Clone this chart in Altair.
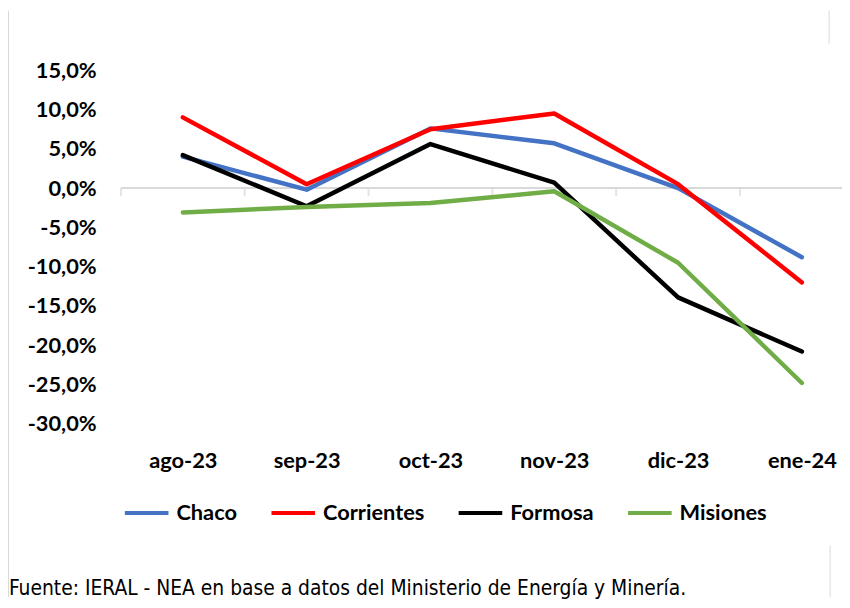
import json
import altair as alt
import pandas as pd

months = ["ago-23", "sep-23", "oct-23", "nov-23", "dic-23", "ene-24"]
series = ["Chaco", "Corrientes", "Formosa", "Misiones"]
chaco = [4.0, -0.2, 7.6, 5.7, 0.0, -8.8]
corrientes = [9.0, 0.5, 7.5, 9.5, 0.5, -12.0]
formosa = [4.2, -2.3, 5.6, 0.7, -13.9, -20.8]
misiones = [-3.1, -2.4, -1.9, -0.4, -9.5, -24.8]
colors = ["#4472C4", "#FF0000", "#000000", "#70AD47"]
y_ticks = [15, 10, 5, 0, -5, -10, -15, -20, -25, -30]
source_text = "Fuente: IERAL - NEA en base a datos del Ministerio de Energía y Minería."

values_by_series = [chaco, corrientes, formosa, misiones]
rows = []
for s, vals in zip(series, values_by_series):
    for i, (m, v) in enumerate(zip(months, vals)):
        rows.append({"idx": i, "mes": m, "serie": s, "valor": v})
df = pd.DataFrame(rows)
bounds = pd.DataFrame({"b": [i - 0.5 for i in range(len(months))]})
one = pd.DataFrame({"k": [0]})

W, H = 720, 357
FONT = "Lato"

x_scale = alt.Scale(domain=[-0.5, 5.26], nice=False, zero=False)
y_scale = alt.Scale(domain=[-30, 15], nice=False, zero=False)

x_label_expr = json.dumps(months) + "[datum.value]"
y_label_expr = "(datum.value < 0 ? '-' : '') + replace(format(abs(datum.value), '.1f'), '.', ',') + '%'"


def x_axis():
    return alt.Axis(values=list(range(len(months))), labelExpr=x_label_expr,
                    labelPadding=27, title=None)


def y_axis():
    return alt.Axis(values=y_ticks, labelExpr=y_label_expr, labelPadding=25,
                    title=None, tickCount=len(y_ticks))


frame_left = alt.Chart(one).mark_rule(color="#D9D9D9", strokeWidth=1).encode(
    x=alt.value(-113.5), y=alt.value(-60), y2=alt.value(532))
frame_right_top = alt.Chart(one).mark_rule(color="#D9D9D9", strokeWidth=1).encode(
    x=alt.value(715), y=alt.value(-60), y2=alt.value(-27))
frame_right_bot = alt.Chart(one).mark_rule(color="#D9D9D9", strokeWidth=1).encode(
    x=alt.value(716), y=alt.value(480), y2=alt.value(532))

zero_line = alt.Chart(one).mark_rule(color="#D9D9D9", strokeWidth=2).encode(
    y=alt.YDatum(0, scale=y_scale, axis=y_axis()), x=alt.value(0), x2=alt.value(W + 8))

cat_ticks = alt.Chart(bounds).mark_tick(
    orient="vertical", size=8, thickness=2, color="#D9D9D9", yOffset=4
).encode(x=alt.X("b:Q", scale=x_scale, axis=x_axis()),
         y=alt.YDatum(0, scale=y_scale, axis=y_axis()))

lines = alt.Chart(df).mark_line(strokeWidth=4.5, strokeJoin="round", strokeCap="round").encode(
    x=alt.X("idx:Q", scale=x_scale, axis=x_axis()),
    y=alt.Y("valor:Q", scale=y_scale, axis=y_axis()),
    color=alt.Color("serie:N", scale=alt.Scale(domain=series, range=colors), sort=series,
                    legend=alt.Legend(title=None, orient="none", legendX=2, legendY=423,
                                      direction="horizontal", symbolType="stroke",
                                      symbolSize=1936, symbolStrokeWidth=4,
                                      labelFont=FONT, labelFontWeight="bold",
                                      labelFontSize=22, labelColor="black",
                                      labelOffset=6, columnPadding=26, padding=0)),
    order=alt.Order("idx:Q"),
)

source = alt.Chart(one).mark_text(
    text=source_text, align="left", baseline="alphabetic",
    font="DejaVu Sans Condensed", fontSize=21, color="black"
).encode(x=alt.value(-113), y=alt.value(530))

chart = alt.layer(
    frame_left, frame_right_top, frame_right_bot, zero_line, cat_ticks, lines, source
).properties(
    width=W, height=H,
    padding={"left": 114, "top": 60, "right": 8, "bottom": 175},
    autosize=alt.AutoSizeParams(type="none"),
).configure_view(stroke=None).configure_axis(
    ticks=False, domain=False, grid=False, labelOverlap=False, labelFlush=False,
    labelFont=FONT, labelFontWeight="bold", labelFontSize=22, labelColor="black",
    labelBound=False,
)

chart.save("out.html", embed_options={"renderer": "svg", "actions": False})
